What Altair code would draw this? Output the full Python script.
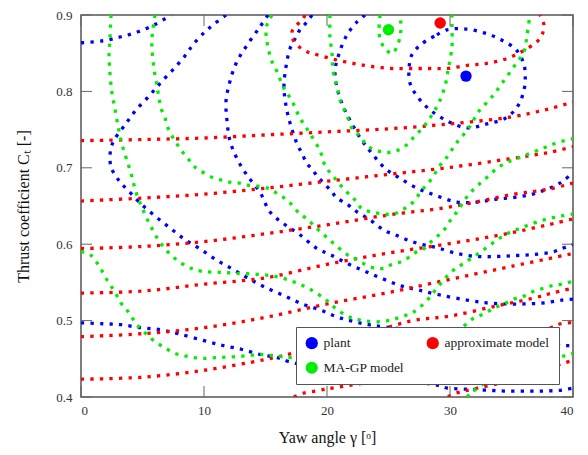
import altair as alt
import pandas as pd

# ---------------- axes ----------------
X_TICKS = [0, 10, 20, 30, 40]
Y_TICKS = [0.4, 0.5, 0.6, 0.7, 0.8, 0.9]

# legend is laid out column by column: plant / MA-GP model, then approximate model
MODELS = ["plant", "MA-GP model", "approximate model"]
COLORS = ["#0000ff", "#00ee00", "#ff0000"]

# ---------------- optima ----------------
OPT_MODEL = ["plant", "approximate model", "MA-GP model"]
OPT_X = [31.3, 29.2, 25.0]
OPT_Y = [0.820, 0.8896, 0.8806]

# ---------------- plant contours (blue) ----------------
PLANT_1 = [(0, 0.8637), (1.79, 0.8663), (3.25, 0.8715), (4.63, 0.878), (6.1, 0.8883), (7.32, 0.9)]
PLANT_2 = [(11.79, 0.9), (10.73, 0.887), (10.0, 0.8767), (9.1, 0.8611), (8.54, 0.8482), (7.64, 0.8313),
           (6.5, 0.8119), (5.53, 0.7938), (4.47, 0.7756), (3.58, 0.7562), (2.76, 0.7381), (2.44, 0.7264),
           (2.36, 0.7135), (2.44, 0.7005), (2.85, 0.6889), (3.25, 0.6798), (3.82, 0.6707), (4.8, 0.6539),
           (6.1, 0.6358), (7.32, 0.6202), (8.46, 0.606), (9.76, 0.593), (11.06, 0.5788), (12.36, 0.5671),
           (13.74, 0.5541), (15.12, 0.5425), (16.59, 0.5321), (17.97, 0.5218), (19.43, 0.514),
           (20.81, 0.5049), (22.28, 0.4984), (23.9, 0.4933), (28.0, 0.486), (32.0, 0.479),
           (36.0, 0.473), (39.19, 0.4674), (40.0, 0.4674)]
PLANT_3 = [(15.2, 0.9), (14.55, 0.8845), (13.58, 0.8624), (12.68, 0.8391), (12.11, 0.8132), (11.79, 0.7873),
           (11.87, 0.7614), (12.11, 0.7355), (12.68, 0.7122), (13.5, 0.6902), (14.55, 0.6681),
           (15.37, 0.6422), (16.59, 0.6254), (17.8, 0.6124), (19.19, 0.5943), (20.24, 0.5865),
           (21.63, 0.5749), (23.09, 0.5645), (24.63, 0.5541), (26.1, 0.5451), (27.48, 0.5399),
           (29.19, 0.5335), (31.38, 0.5269), (33.0, 0.5231), (34.55, 0.5218), (36.0, 0.5218),
           (37.64, 0.5231), (39.1, 0.5269), (40.0, 0.5282)]
PLANT_4 = [(0, 0.4971), (1.79, 0.4959), (3.25, 0.4946), (4.88, 0.4907), (6.42, 0.4881), (7.89, 0.4829),
           (10.0, 0.4738), (11.54, 0.4674), (13.09, 0.4622), (14.55, 0.4557), (16.18, 0.4505),
           (16.83, 0.4466), (20.0, 0.436), (24.0, 0.426), (28.94, 0.4155), (29.76, 0.4117),
           (31.14, 0.4104), (32.76, 0.4091), (34.39, 0.4078), (36.0, 0.4078), (37.64, 0.4078),
           (39.1, 0.4091), (40.0, 0.4117)]
PLANT_5 = [(23.09, 0.9), (22.44, 0.8909), (21.63, 0.8741), (20.98, 0.8495), (20.65, 0.8262), (20.89, 0.8003),
           (21.38, 0.7782), (22.03, 0.7575), (22.85, 0.7355), (23.66, 0.7187), (24.72, 0.6992),
           (25.93, 0.6863), (27.32, 0.6733), (28.78, 0.6642), (30.57, 0.6552), (32.2, 0.6552),
           (33.82, 0.6591), (35.45, 0.6617), (36.99, 0.6668), (38.62, 0.6772), (39.27, 0.6837),
           (40.0, 0.694)]
PLANT_6 = [(18.78, 0.9), (18.37, 0.8909), (17.8, 0.8806), (17.4, 0.8689), (16.99, 0.856), (16.67, 0.8326),
           (16.5, 0.8067), (16.67, 0.7808), (16.99, 0.7588), (17.56, 0.7316), (17.97, 0.7187),
           (18.37, 0.7057), (18.86, 0.6966), (19.27, 0.6876), (19.84, 0.6785), (20.41, 0.6681),
           (20.81, 0.6604), (21.63, 0.6526), (22.2, 0.6448), (22.85, 0.6383), (23.5, 0.6319),
           (24.23, 0.6228), (24.88, 0.6163), (25.53, 0.6124), (26.26, 0.6073), (26.91, 0.6034),
           (27.72, 0.5995), (28.54, 0.5969), (29.19, 0.5943), (30.57, 0.5878), (32.2, 0.5839),
           (33.82, 0.5839), (35.37, 0.5852), (36.83, 0.5865), (38.46, 0.5904), (39.1, 0.5943),
           (40.0, 0.5995)]
PLANT_7 = [(28.94, 0.8741), (29.76, 0.8806), (31.14, 0.8819), (32.76, 0.8767), (34.15, 0.8676),
           (35.37, 0.8547), (36.02, 0.8352), (36.1, 0.8223), (36.1, 0.8093), (35.61, 0.7834),
           (34.55, 0.7653), (33.0, 0.7575), (31.38, 0.7523), (29.76, 0.7614), (28.29, 0.7769),
           (27.32, 0.7938), (26.75, 0.8106), (26.67, 0.83), (26.91, 0.8482), (27.72, 0.8624),
           (28.94, 0.8741)]

# ---------------- approximate model contours (red) ----------------
APPROX_1 = [(18.2, 0.9), (18.05, 0.8948), (17.56, 0.887), (17.15, 0.878), (17.24, 0.8676), (17.72, 0.8585),
            (18.37, 0.852), (19.19, 0.848), (20.65, 0.8417), (22.2, 0.8365), (23.66, 0.8326),
            (25.28, 0.830), (26.75, 0.830), (28.37, 0.830), (29.76, 0.830), (31.38, 0.834),
            (32.93, 0.8365), (34.39, 0.8417), (35.69, 0.8508), (37.07, 0.865), (37.48, 0.874),
            (37.64, 0.887), (37.3, 0.9)]
APPROX_2 = [(0, 0.7355), (5, 0.737), (10, 0.739), (15, 0.743), (20, 0.747), (25, 0.751), (30, 0.7575),
            (35, 0.7666), (38, 0.777), (40, 0.786)]
APPROX_3 = [(0, 0.6565), (5, 0.6604), (10, 0.6655), (15, 0.6733), (20, 0.6824), (25, 0.6914), (30, 0.7005),
            (35, 0.7122), (38, 0.72), (40, 0.7277)]
APPROX_4 = [(0, 0.5943), (5, 0.597), (10, 0.6034), (15, 0.6137), (20, 0.6254), (25, 0.6383), (30, 0.6487),
            (35, 0.6649), (38, 0.672), (40, 0.680)]
APPROX_5 = [(0, 0.536), (5, 0.5386), (10, 0.5477), (15, 0.556), (20, 0.5736), (25, 0.5885), (30, 0.6008),
            (35, 0.615), (40, 0.633)]
APPROX_6 = [(0, 0.479), (5, 0.4829), (10, 0.4907), (15, 0.5043), (20, 0.5218), (25, 0.5367), (30, 0.554),
            (35, 0.571), (40, 0.5878)]
APPROX_7 = [(0, 0.4233), (5, 0.4259), (10, 0.435), (15, 0.4492), (17.5, 0.4583), (20, 0.468),
            (23.5, 0.484), (26.9, 0.4997), (30.08, 0.5062), (33.8, 0.5192), (36.8, 0.5295),
            (38.3, 0.536), (40, 0.5425)]
APPROX_8 = [(17.3, 0.4), (18.1, 0.4052), (19.1, 0.4078), (19.9, 0.4104), (20.4, 0.4117), (25, 0.424),
            (30, 0.443), (35, 0.47), (38.2, 0.4907), (39.0, 0.4959), (40, 0.4975)]
APPROX_9 = [(29.84, 0.4), (30.08, 0.4026), (30.5, 0.4052), (34, 0.418), (37, 0.432), (39.43, 0.4453),
            (40, 0.448)]

# ---------------- MA-GP model contours (green) ----------------
MAGP_1 = [(2.44, 0.9), (2.36, 0.8715), (2.28, 0.8482), (2.36, 0.8223), (2.52, 0.7977), (2.76, 0.777),
          (3.01, 0.7549), (3.25, 0.7355), (3.66, 0.7135), (4.07, 0.6927), (4.47, 0.6681), (5.04, 0.6448),
          (5.69, 0.6228), (6.5, 0.6008), (7.64, 0.5813), (8.94, 0.5684), (9.84, 0.5645), (11.3, 0.5632),
          (12.68, 0.5619), (14.31, 0.5606), (15.77, 0.558), (17.15, 0.5516), (18.46, 0.5425),
          (19.84, 0.5282), (20.65, 0.5166), (21.63, 0.5062), (22.28, 0.5023), (23.09, 0.4997),
          (24.07, 0.4984), (24.88, 0.4997), (25.53, 0.5023), (26.26, 0.5062), (26.91, 0.5101),
          (27.48, 0.5166), (28.29, 0.5295), (29.19, 0.5477), (30.16, 0.5645), (30.98, 0.5736),
          (32.2, 0.5865), (33.41, 0.6008), (34.63, 0.6137), (36.02, 0.6228), (37.64, 0.6319),
          (39.1, 0.637), (40.0, 0.6396)]
MAGP_2 = [(6.02, 0.9), (5.85, 0.8819), (5.77, 0.8689), (5.77, 0.856), (5.93, 0.83), (6.18, 0.8067),
          (6.34, 0.7912), (6.5, 0.7782), (6.83, 0.7653), (7.07, 0.7523), (7.48, 0.7394), (7.89, 0.729),
          (8.29, 0.72), (8.7, 0.7122), (9.11, 0.7031), (9.67, 0.6966), (10.65, 0.6876), (11.46, 0.6837),
          (12.11, 0.6811), (12.93, 0.6798), (13.58, 0.6772), (14.39, 0.6759), (15.2, 0.6733),
          (15.77, 0.6681), (16.42, 0.6617), (17.0, 0.654), (17.8, 0.6396), (18.37, 0.6332),
          (19.19, 0.6202), (19.92, 0.6098), (20.65, 0.5995), (21.63, 0.5865), (22.28, 0.5813),
          (23.09, 0.5736), (23.9, 0.5684), (24.63, 0.5684), (25.28, 0.5736), (26.1, 0.5775),
          (26.75, 0.5839), (27.32, 0.5904), (27.89, 0.5943), (28.29, 0.6008), (28.78, 0.6073),
          (29.19, 0.6137), (29.59, 0.6202), (30.0, 0.6306), (30.49, 0.6409), (30.98, 0.6526),
          (31.54, 0.6655), (32.2, 0.6759), (33.01, 0.6876), (33.82, 0.6992), (34.63, 0.707),
          (35.45, 0.7122), (36.26, 0.7174), (37.07, 0.7225), (37.89, 0.7277), (38.7, 0.7329),
          (40.0, 0.7381)]
MAGP_3 = [(15.53, 0.9), (15.2, 0.8909), (15.04, 0.8806), (15.12, 0.865), (15.28, 0.8521), (15.53, 0.8391),
          (15.93, 0.8262), (16.42, 0.8067), (17.15, 0.7873), (17.8, 0.7653), (18.62, 0.7446),
          (19.43, 0.7225), (19.84, 0.7031), (20.57, 0.6876), (21.46, 0.6707), (22.28, 0.6578),
          (22.85, 0.6461), (23.66, 0.6422), (24.47, 0.6396), (25.45, 0.6396), (26.1, 0.6448),
          (26.75, 0.6513), (27.32, 0.6617), (27.72, 0.6707), (28.29, 0.6811), (28.78, 0.6927),
          (29.19, 0.7031), (29.67, 0.7122), (30.49, 0.7316), (31.54, 0.7523), (32.36, 0.7744),
          (33.33, 0.7912), (34.23, 0.8106), (35.2, 0.8326), (36.02, 0.8521), (36.26, 0.8741),
          (36.5, 0.9)]
MAGP_4 = [(20.24, 0.9), (20.24, 0.8715), (20.41, 0.8495), (20.49, 0.8275), (20.81, 0.8067), (21.06, 0.7886),
          (21.63, 0.7679), (22.11, 0.7497), (22.68, 0.742), (23.25, 0.729), (24.07, 0.7225),
          (24.88, 0.72), (25.69, 0.7225), (26.5, 0.7303), (27.15, 0.742), (27.8, 0.7523),
          (28.37, 0.7653), (28.78, 0.7756), (29.19, 0.7886), (29.59, 0.8067), (29.84, 0.8275),
          (30.16, 0.8585), (30.16, 0.8845), (30.16, 0.9)]
MAGP_5 = [(24.31, 0.9), (24.23, 0.8819), (24.31, 0.8689), (24.72, 0.856), (25.28, 0.8495), (25.69, 0.8585),
          (25.93, 0.8715), (26.02, 0.8845), (25.93, 0.9)]
MAGP_6 = [(0, 0.5904), (0.73, 0.5865), (1.22, 0.5775), (1.63, 0.5671), (2.03, 0.5554), (2.44, 0.5451),
          (2.85, 0.5347), (3.25, 0.5231), (3.66, 0.5153), (4.07, 0.5062), (4.47, 0.4959), (5.04, 0.4868),
          (5.61, 0.4777), (6.26, 0.47), (6.91, 0.4635), (7.64, 0.457), (8.29, 0.4544), (9.11, 0.4518),
          (9.92, 0.4505), (11.3, 0.4518), (12.93, 0.4531), (14.55, 0.4557), (16.18, 0.4531),
          (16.83, 0.4518), (20.0, 0.451), (24.0, 0.456), (27.0, 0.466), (29.5, 0.479),
          (31.14, 0.4933), (31.95, 0.5036), (32.76, 0.5088), (33.58, 0.5166), (34.39, 0.5218),
          (35.2, 0.5282), (36.02, 0.5321), (36.83, 0.5386), (37.64, 0.5425), (38.46, 0.5464),
          (39.1, 0.5477), (40.0, 0.5516)]
MAGP_7 = [(31.38, 0.4), (31.79, 0.4065), (33.0, 0.42), (35.5, 0.437), (38.0, 0.448), (39.43, 0.4544),
          (40.0, 0.457)]

CURVES = {
    "plant": [PLANT_1, PLANT_2, PLANT_3, PLANT_4, PLANT_5, PLANT_6, PLANT_7],
    "approximate model": [APPROX_1, APPROX_2, APPROX_3, APPROX_4, APPROX_5, APPROX_6, APPROX_7,
                          APPROX_8, APPROX_9],
    "MA-GP model": [MAGP_1, MAGP_2, MAGP_3, MAGP_4, MAGP_5, MAGP_6, MAGP_7],
}

rows = []
for model, curves in CURVES.items():
    for c, pts in enumerate(curves):
        for i, (x, y) in enumerate(pts):
            rows.append({"model": model, "curve": f"{model}-{c}", "i": i, "x": x, "y": y})
lines_df = pd.DataFrame(rows)
opt_df = pd.DataFrame({"model": OPT_MODEL, "x": OPT_X, "y": OPT_Y})
xt_df = pd.DataFrame({"x": X_TICKS})
yt_df = pd.DataFrame({"y": Y_TICKS})

FONT = "Liberation Serif"
W, H = 492, 382
TICK = 11
X_TITLE = "Yaw angle γ [ᵒ]"
Y_TITLE = "Thrust coefficient Cₜ [-]"

xscale = alt.Scale(domain=[0, 40], nice=False, zero=False)
yscale = alt.Scale(domain=[0.4, 0.9], nice=False, zero=False)

x_axis = alt.Axis(values=X_TICKS, ticks=False, tickSize=0, domain=False, grid=False, format="d",
                  labelFont=FONT, labelFontSize=13, labelColor="#333333", labelPadding=7,
                  titleFont=FONT, titleFontSize=16, titleFontWeight="normal", titleColor="#111111",
                  titlePadding=12)
y_axis = alt.Axis(values=Y_TICKS, ticks=False, tickSize=0, domain=False, grid=False, format=".1f",
                  labelFont=FONT, labelFontSize=13, labelColor="#333333", labelPadding=9,
                  titleFont=FONT, titleFontSize=16, titleFontWeight="normal", titleColor="#111111",
                  titlePadding=24)


def X(field="x"):
    return alt.X(f"{field}:Q", scale=xscale, axis=x_axis, title=X_TITLE)


def Y(field="y"):
    return alt.Y(f"{field}:Q", scale=yscale, axis=y_axis, title=Y_TITLE)


lines = alt.Chart(lines_df).mark_line(
    interpolate="catmull-rom", strokeWidth=3.3, strokeDash=[3.3, 6.2], strokeCap="butt", clip=True
).encode(
    x=X(), y=Y(),
    color=alt.Color("model:N", scale=alt.Scale(domain=MODELS, range=COLORS), legend=None),
    detail="curve:N",
    order="i:Q",
)

tick_color = "#666666"
yt_left = alt.Chart(yt_df).mark_rule(color=tick_color, strokeWidth=1).encode(
    y=Y(), x=alt.value(0), x2=alt.value(TICK))
yt_right = alt.Chart(yt_df).mark_rule(color=tick_color, strokeWidth=1).encode(
    y=Y(), x=alt.value(W - TICK), x2=alt.value(W))
xt_bottom = alt.Chart(xt_df).mark_rule(color=tick_color, strokeWidth=1).encode(
    x=X(), y=alt.value(H - TICK), y2=alt.value(H))
xt_top = alt.Chart(xt_df).mark_rule(color=tick_color, strokeWidth=1).encode(
    x=X(), y=alt.value(0), y2=alt.value(TICK))

points = alt.Chart(opt_df).mark_point(filled=True, shape="circle", size=130, opacity=1).encode(
    x=X(), y=Y(),
    color=alt.Color("model:N", scale=alt.Scale(domain=MODELS, range=COLORS),
                    legend=alt.Legend(orient="none", legendX=215, legendY=312, title=None, columns=2,
                                      symbolType="circle", symbolSize=150, symbolStrokeWidth=0,
                                      labelFont=FONT, labelFontSize=13.5, labelColor="#222222",
                                      labelOffset=5, columnPadding=21, rowPadding=10, padding=9,
                                      fillColor="white", strokeColor="#555555")),
)

chart = alt.layer(lines, yt_left, yt_right, xt_bottom, xt_top, points).resolve_scale(
    color="independent"
).properties(
    width=W, height=H,
    autosize=alt.AutoSizeParams(type="none"),
    padding={"left": 73, "top": 7, "right": 7, "bottom": 50},
).configure_view(stroke="#555555", strokeWidth=1.5)

chart.save("out.html", embed_options={"renderer": "svg", "actions": False})
